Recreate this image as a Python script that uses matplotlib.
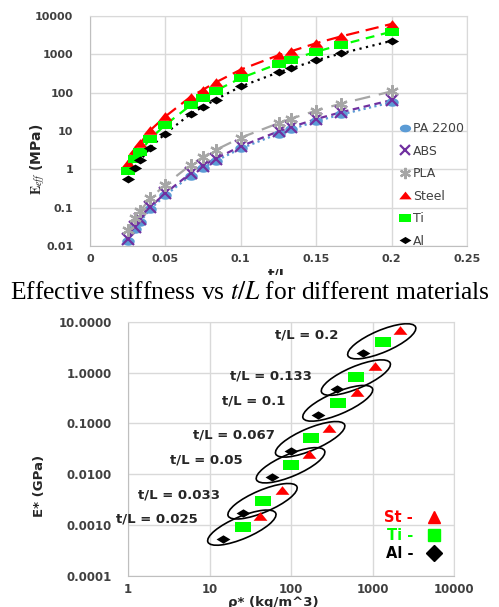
import numpy as np
import matplotlib
matplotlib.use('Agg')
import matplotlib.pyplot as plt
from matplotlib.patches import Ellipse, Rectangle
from matplotlib.transforms import IdentityTransform
from matplotlib.lines import Line2D

# --- top chart: effective stiffness (MPa) vs t/L ---
tl = [0.025, 0.03, 0.0333, 0.04, 0.05, 0.0667, 0.075, 0.0833, 0.1, 0.125, 0.1333, 0.15, 0.1667, 0.2]
e_pa = [0.0135, 0.028, 0.043, 0.092, 0.21, 0.69, 1.1, 1.65, 3.5, 8.5, 11, 18, 27, 56]
e_abs = [0.0155, 0.032, 0.05, 0.105, 0.24, 0.79, 1.25, 1.9, 4.0, 9.8, 12.6, 20.5, 31, 64]
e_pla = [0.026, 0.054, 0.082, 0.175, 0.4, 1.3, 2.1, 3.2, 6.7, 16, 21, 34, 52, 108]
e_steel = [1.5, 3.1, 4.8, 10.5, 24, 78, 120, 185, 400, 950, 1200, 1950, 2950, 6200]
e_ti = [0.92, 1.9, 2.9, 6.3, 14.5, 47, 72, 112, 240, 570, 730, 1170, 1780, 3900]
e_al = [0.55, 1.1, 1.7, 3.7, 8.6, 28, 43, 66, 145, 340, 430, 700, 1060, 2250]
top_xticks = [0, 0.05, 0.1, 0.15, 0.2, 0.25]
top_xlabels = ['0', '0.05', '0.1', '0.15', '0.2', '0.25']
top_yticks = [0.01, 0.1, 1, 10, 100, 1000, 10000]
top_ylabels = ['0.01', '0.1', '1', '10', '100', '1000', '10000']

# --- bottom chart: E* (GPa) vs rho* (kg/m^3) ---
groups = ['t/L = 0.2', 't/L = 0.133', 't/L = 0.1', 't/L = 0.067', 't/L = 0.05', 't/L = 0.033', 't/L = 0.025']
rho_st = [2190, 1070, 650, 295, 168, 77, 42]
E_st = [6.9, 1.34, 0.42, 0.082, 0.025, 0.0049, 0.0015]
rho_ti = [1360, 625, 380, 176, 99, 45, 25.5]
E_ti = [4.0, 0.83, 0.255, 0.051, 0.0151, 0.0030, 0.00092]
rho_al = [770, 365, 216, 100, 58, 26, 14.8]
E_al = [2.45, 0.47, 0.146, 0.0285, 0.0089, 0.00174, 0.00052]
bot_xticks = [1, 10, 100, 1000, 10000]
bot_xlabels = ['1', '10', '100', '1000', '10000']
bot_yticks = [0.0001, 0.001, 0.01, 0.1, 1, 10]
bot_ylabels = ['0.0001', '0.0010', '0.0100', '0.1000', '1.0000', '10.0000']

plt.rcParams['font.family'] = 'DejaVu Sans'
plt.rcParams['mathtext.fontset'] = 'stix'

W, H = 499, 607
fig = plt.figure(figsize=(W / 100, H / 100), dpi=100)


def box(l, t, r, b):
    return [l / W, 1 - b / H, (r - l) / W, (b - t) / H]


# wide (stretched) marker shapes like the pasted excel picture
tri = [(-1, -0.62), (1, -0.62), (0, 0.62), (-1, -0.62)]
sq = [(-1, -0.65), (1, -0.65), (1, 0.65), (-1, 0.65), (-1, -0.65)]
dia = [(-1, 0), (0, 0.6), (1, 0), (0, -0.6), (-1, 0)]
th = np.linspace(0, 2 * np.pi, 40)
circ = list(zip(np.cos(th), 0.68 * np.sin(th)))

grid_c = '#d9d9d9'
tick_c = '#404040'

# ---------------- top chart ----------------
ax1 = fig.add_axes(box(90, 16, 467, 246))
series = [
    ('PA 2200', e_pa, '#5b9bd5', circ, 9, (1, 1.5)),
    ('ABS', e_abs, '#7030a0', 'x', 8, (3, 2)),
    ('PLA', e_pla, '#a6a6a6', (6, 2, 0), 9, (7, 4)),
    ('Steel', e_steel, '#ff0000', tri, 10, (6, 3)),
    ('Ti', e_ti, '#00ff00', sq, 9.5, (4, 3)),
    ('Al', e_al, '#000000', dia, 9.5, (1, 2)),
]
handles = []
for name, vals, col, mk, ms, dash in series:
    ax1.plot(tl, vals, color=col, lw=1.6, dashes=dash, zorder=2)
    if mk in ('x',) or isinstance(mk, tuple):
        kw = dict(mfc=col, mec=col, mew=1.6)
    else:
        kw = dict(mfc=col, mec=col, mew=0)
    ax1.plot(tl, vals, ls='none', marker=mk, ms=ms, zorder=3, **kw)
    handles.append(Line2D([], [], ls='none', marker=mk, ms=ms * 0.9, label=name, **kw))

ax1.set_yscale('log')
ax1.set_xlim(0, 0.25)
ax1.set_ylim(0.01, 10000)
ax1.set_xticks(top_xticks)
ax1.set_xticklabels(top_xlabels)
ax1.set_yticks(top_yticks)
ax1.set_yticklabels(top_ylabels)
ax1.minorticks_off()
ax1.tick_params(length=0, labelsize=8, labelcolor=tick_c)
ax1.tick_params(axis='y', pad=12)
ax1.tick_params(axis='x', pad=6)
for lab in ax1.get_xticklabels() + ax1.get_yticklabels():
    lab.set_fontweight('bold')
ax1.grid(True, color=grid_c, lw=1)
for s in ax1.spines.values():
    s.set_color(grid_c)
ax1.spines['left'].set_color('#bfbfbf')
ax1.spines['bottom'].set_color('#bfbfbf')
ax1.legend(handles=handles, loc='upper left', bbox_to_anchor=(392 / W, 1 - 116 / H),
           bbox_transform=fig.transFigure, frameon=False, fontsize=9,
           borderpad=0, handlelength=1.0, handletextpad=0.2, labelspacing=0.76,
           labelcolor='#404040')
fig.text(38 / W, 1 - 159 / H, r'$\mathbf{E}_{\mathit{eff}}$ (MPa)', rotation=90,
         ha='center', va='center', fontsize=10, fontweight='bold', color='#262626')
fig.text(278 / W, 1 - 274 / H, 't/L', ha='center', va='center', fontsize=10,
         fontweight='bold', color='#262626')

# white band behind the caption (covers bottom of the t/L label as in the picture)
fig.add_artist(Rectangle((0, 1 - 305 / H), 1, (305 - 275) / H, transform=fig.transFigure,
                         facecolor='white', edgecolor='none', zorder=5))
fig.text(0.5, 1 - 293 / H, r'Effective stiffness vs $\mathit{t/L}$ for different materials',
         ha='center', va='center', fontsize=18.4, family='Liberation Serif', zorder=6)

# ---------------- bottom chart ----------------
ax2 = fig.add_axes(box(128, 321.7, 454, 575.7))
ax2.set_xscale('log')
ax2.set_yscale('log')
ax2.set_xlim(1, 10000)
ax2.set_ylim(0.0001, 10)
ax2.plot(rho_st, E_st, ls='none', marker=tri, ms=10, mfc='#ff0000', mec='#ff0000', mew=0, zorder=3)
ax2.plot(rho_ti, E_ti, ls='none', marker=sq, ms=11, mfc='#00ff00', mec='#00ff00', mew=0, zorder=3)
ax2.plot(rho_al, E_al, ls='none', marker=dia, ms=10, mfc='#000000', mec='#000000', mew=0, zorder=3)
ax2.set_xticks(bot_xticks)
ax2.set_xticklabels(bot_xlabels)
ax2.set_yticks(bot_yticks)
ax2.set_yticklabels(bot_ylabels)
ax2.minorticks_off()
ax2.tick_params(length=0, labelsize=8.5, labelcolor=tick_c)
ax2.tick_params(axis='y', pad=11.5)
ax2.tick_params(axis='x', pad=5)
for lab in ax2.get_xticklabels() + ax2.get_yticklabels():
    lab.set_fontweight('bold')
ax2.grid(True, color=grid_c, lw=1)
for s in ax2.spines.values():
    s.set_color(grid_c)
ax2.spines['left'].set_color('#bfbfbf')
ax2.spines['bottom'].set_color('#bfbfbf')

# ellipses around each t/L group, built in pixel space from the data points
fig.canvas.draw()
p_st = ax2.transData.transform(np.column_stack([rho_st, E_st]))
p_al = ax2.transData.transform(np.column_stack([rho_al, E_al]))
for a, b in zip(p_al, p_st):
    c = (a + b) / 2
    length = np.hypot(*(b - a)) + 30
    ax2.add_artist(Ellipse(c, length, 22, angle=23, transform=IdentityTransform(),
                           facecolor='none', edgecolor='black', lw=1.2, zorder=2))

label_offsets = [(-88, 17.7), (-106.7, 13.3), (-96.6, 14.3), (-98.3, 16), (-101.7, 16.7),
                 (-105, 17.7), (-107, 20)]
for name, x, y, off in zip(groups, rho_al, E_al, label_offsets):
    ax2.annotate(name, xy=(x, y), xytext=off, textcoords='offset pixels', ha='left',
                 va='center', fontsize=9.5, fontweight='bold', color='#262626',
                 annotation_clip=False, zorder=4)

leg_handles = [
    Line2D([], [], ls='none', marker='^', ms=8, mfc='#ff0000', mec='#ff0000', label='St -'),
    Line2D([], [], ls='none', marker='s', ms=8.5, mfc='#00ff00', mec='#00ff00', label='Ti -'),
    Line2D([], [], ls='none', marker='D', ms=8, mfc='#000000', mec='#000000', label='Al -'),
]
ax2.legend(handles=leg_handles, loc='upper left', bbox_to_anchor=(377 / W, 1 - 503 / H),
           bbox_transform=fig.transFigure, frameon=False, fontsize=10.5, markerfirst=False,
           borderpad=0, handlelength=1.4, handletextpad=0.75, labelspacing=0.2,
           labelcolor='markerfacecolor', prop={'weight': 'bold', 'size': 10.5})

fig.text(40 / W, 1 - 485.5 / H, 'E* (GPa)', rotation=90, ha='center', va='center',
         fontsize=9.5, fontweight='bold', color='#262626')
fig.text(273 / W, 1 - 596 / H, 'ρ* (kg/m^3)', ha='center', va='top', fontsize=9.5,
         fontweight='bold', color='#262626')

fig.savefig('out.png', dpi=100, facecolor='white')
